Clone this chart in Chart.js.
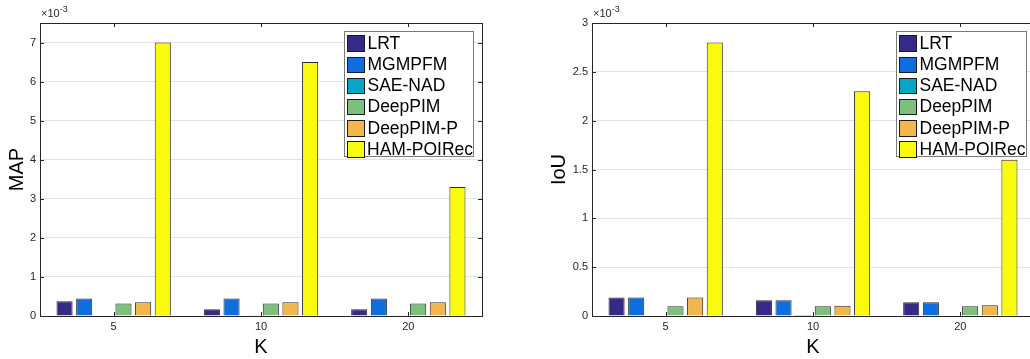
<!DOCTYPE html>
<html>
<head>
<meta charset="utf-8">
<script src="https://cdn.jsdelivr.net/npm/chart.js@4.4.1/dist/chart.umd.min.js"></script>
<style>
  body { margin: 0; background: #fff; width: 1030px; height: 359px; overflow: hidden; position: relative;
         font-family: "Liberation Sans", Arial, sans-serif; }
  .panel { position: absolute; top: 0; height: 359px; }
  .legend { position: absolute; border: 1px solid #7a7a7a; background: #fff; box-sizing: border-box; padding-top: 1px; }
  .legend-row { display: flex; align-items: center; height: 21.2px; }
  .swatch { width: 18.5px; height: 16.5px; border: 1px solid #1a1a1a; box-sizing: border-box; margin-left: 1.5px; margin-right: 2.5px; }
  .legend-label { font-size: 17.5px; color: #000; line-height: 1; white-space: nowrap; }
  .exp { position: absolute; top: 4px; font-size: 11px; color: #262626; }
  .exp sup { font-size: 9px; }
</style>
</head>
<body>
<div class="panel" style="left:0;width:500px"><canvas id="mapChart" width="500" height="359"></canvas></div>
<div class="panel" style="left:540px;width:520px"><canvas id="iouChart" width="520" height="359"></canvas></div>
<div class="exp" style="left:41px">&times;10<sup>-3</sup></div>
<div class="exp" style="left:593px">&times;10<sup>-3</sup></div>
<div class="legend" id="mapLegend" style="left:344px;top:31px;width:130px;height:126px"></div>
<div class="legend" id="iouLegend" style="left:896px;top:31px;width:131px;height:126px"></div>

<script>
// ── Data (values are x10^-3) ──
const categories = ['5', '10', '20'];
const methods = ['LRT', 'MGMPFM', 'SAE-NAD', 'DeepPIM', 'DeepPIM-P', 'HAM-POIRec'];
const colors = ['#352a87', '#0f6ede', '#06a6c6', '#7cc07c', '#f1b74a', '#f9fa0e'];

const mapLRT      = [0.38, 0.17, 0.17];
const mapMGMPFM   = [0.45, 0.45, 0.45];
const mapSAENAD   = [0.0, 0.02, 0.02];
const mapDeepPIM  = [0.32, 0.32, 0.32];
const mapDeepPIMP = [0.35, 0.35, 0.35];
const mapHAM      = [7.0, 6.5, 3.3];

const iouLRT      = [0.19, 0.16, 0.14];
const iouMGMPFM   = [0.19, 0.16, 0.14];
const iouSAENAD   = [0.0, 0.01, 0.005];
const iouDeepPIM  = [0.10, 0.10, 0.10];
const iouDeepPIMP = [0.19, 0.105, 0.11];
const iouHAM      = [2.8, 2.3, 1.6];

const mapSeries = [mapLRT, mapMGMPFM, mapSAENAD, mapDeepPIM, mapDeepPIMP, mapHAM];
const iouSeries = [iouLRT, iouMGMPFM, iouSAENAD, iouDeepPIM, iouDeepPIMP, iouHAM];

const axisColor = '#262626';

// ── MATLAB-style box with inward ticks ──
const boxPlugin = {
    id: 'matlabBox',
    afterDraw(chart) {
        const { ctx, chartArea: a, scales } = chart;
        ctx.save();
        ctx.strokeStyle = axisColor;
        ctx.lineWidth = 1;
        ctx.strokeRect(Math.round(a.left) + 0.5, Math.round(a.top) + 0.5,
                       Math.round(a.right - a.left), Math.round(a.bottom - a.top));
        ctx.beginPath();
        scales.y.ticks.forEach((t, i) => {
            const y = Math.round(scales.y.getPixelForTick(i)) + 0.5;
            ctx.moveTo(a.left, y); ctx.lineTo(a.left + 4, y);
            ctx.moveTo(a.right, y); ctx.lineTo(a.right - 4, y);
        });
        scales.x.ticks.forEach((t, i) => {
            const x = Math.round(scales.x.getPixelForTick(i)) + 0.5;
            ctx.moveTo(x, a.bottom); ctx.lineTo(x, a.bottom - 4);
            ctx.moveTo(x, a.top); ctx.lineTo(x, a.top + 4);
        });
        ctx.stroke();
        ctx.restore();
    }
};

function makeChart(canvasId, series, yTitle, yMax, yStep, yWidth, titlePad, rightPad) {
    const ctx = document.getElementById(canvasId).getContext('2d');
    return new Chart(ctx, {
        type: 'bar',
        data: {
            labels: categories,
            datasets: series.map((vals, i) => ({
                label: methods[i],
                data: vals,
                backgroundColor: colors[i],
                borderColor: '#2b2b2b',
                borderWidth: 1,
                categoryPercentage: 0.8,
                barPercentage: 0.82
            }))
        },
        options: {
            responsive: false,
            animation: false,
            layout: { padding: { top: 23, right: rightPad, left: 0, bottom: 0 } },
            plugins: { legend: { display: false }, tooltip: { enabled: false } },
            scales: {
                x: {
                    grid: { display: false, drawTicks: false },
                    border: { display: false },
                    ticks: { color: axisColor, font: { size: 11, family: 'Liberation Sans' }, padding: 4, maxRotation: 0 },
                    title: { display: true, text: 'K', color: '#000', font: { size: 20, family: 'Liberation Sans' }, padding: { top: 0, bottom: 0 } },
                    afterFit: s => { s.height = 43; }
                },
                y: {
                    min: 0, max: yMax,
                    grid: { color: 'rgba(38,38,38,0.13)', drawTicks: false },
                    border: { display: false },
                    ticks: { stepSize: yStep, includeBounds: false, color: axisColor,
                             font: { size: 11, family: 'Liberation Sans' }, padding: 4,
                             callback: v => String(v) },
                    title: { display: true, text: yTitle, color: '#000', font: { size: 20, family: 'Liberation Sans' }, padding: { top: titlePad, bottom: 0 } },
                    afterFit: s => { s.width = yWidth; }
                }
            }
        },
        plugins: [boxPlugin]
    });
}

function buildLegend(id) {
    const el = document.getElementById(id);
    el.innerHTML = methods.map((m, i) => `
        <div class="legend-row">
            <div class="swatch" style="background:${colors[i]}"></div>
            <span class="legend-label">${m}</span>
        </div>`).join('');
}

makeChart('mapChart', mapSeries, 'MAP', 7.5, 1, 40, 5, 18);
makeChart('iouChart', iouSeries, 'IoU', 3, 0.5, 52, 7, 26);
buildLegend('mapLegend');
buildLegend('iouLegend');
</script>
</body>
</html>
